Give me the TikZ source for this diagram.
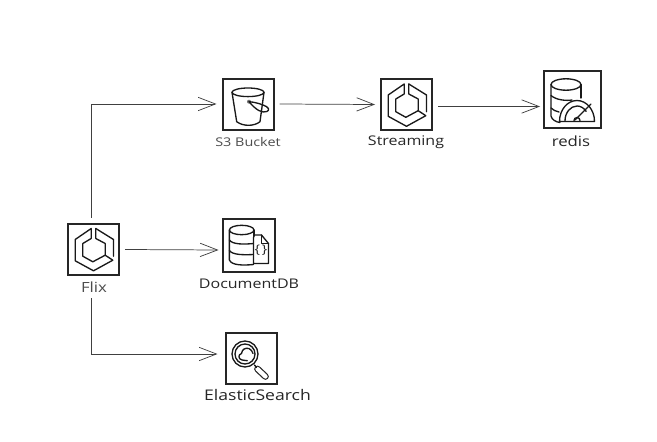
\documentclass[tikz,border=0pt]{standalone}
\usepackage{fontspec}
\setmainfont[FakeStretch=1.2]{Open Sans}
\usetikzlibrary{arrows.meta,calc}
\tikzstyle{svc}=[draw=black!85, line width=1.5pt, fill=white, inner sep=0pt, outer sep=4.5pt]
\tikzstyle{captext}=[inner sep=0pt, outer sep=0pt, text=black!85]
\tikzstyle{link}=[draw, line width=0.55pt, color=black!75, -{Straight Barb[length=13pt,width=10pt]}]
\tikzstyle{glyph}=[draw=black!90, line width=1pt, line join=round, line cap=round]
\newcommand{\svcbox}[2]{node (p#1)[svc,minimum width=#2,minimum height=#2]{}}
\newcommand{\capt}[3]{node (l#1)[captext,font=\fontsize{#2}{#2}\selectfont]{#3}}
\tikzset{
  pics/hexicon/.style={code={
    \draw[glyph] (-2.3,-21) -- (-18.3,-10) -- (-18.3,11.3) -- (0,21.3) -- (19.3,10.7) -- (11.7,5.7) -- (-0.7,12.3) -- (-10.7,6.7) -- (-10.7,-6) -- (-2.3,-11) -- cycle;
    \draw[glyph] (2.3,-21) -- (20,-10) -- (20,6.7);
    \draw[glyph] (2.3,-21) -- (2.3,-11) -- (11.7,-6) -- (11.7,5.7);
  }},
  pics/bucketicon/.style={code={
    \draw[glyph] (0,-12.7) ellipse [x radius=16, y radius=4.3];
    \draw[glyph] (-16,-12.7) -- (-11.3,16.7) .. controls (-5,21.5) and (6,21.5) .. (12,16.7) -- (16,-12.7);
    \fill[black!55] (1,-3.3) circle (2);
    \draw[glyph] (1,-3.3) .. controls (5,-3) and (10,-2) .. (15,0) .. controls (21,2) and (22,5) .. (19,6.5) .. controls (14,8.5) and (8,5) .. (1,-3.3);
  }},
  pics/redisicon/.style={code={
    \draw[glyph] (-6,-15.5) ellipse [x radius=15, y radius=5.7];
    \draw[glyph] (-21,-15.5) -- (-21,16) .. controls (-20,20) and (-16,22) .. (-12,22.5);
    \draw[glyph] (9,-15.5) -- (9,-2);
    \draw[glyph] (-21,-4.5) .. controls (-16,0) and (-6,1) .. (0,0);
    \draw[glyph] (-21,8) .. controls (-19,10) and (-16,11.5) .. (-13,12);
    \draw[glyph,fill=white] (-12.5,21.5) arc [start angle=180, end angle=360, x radius=17.5, y radius=21] -- cycle;
    \draw[glyph] (-7,21) arc [start angle=180, end angle=320, x radius=12, y radius=15];
    \draw[glyph] (2,20.5) arc [start angle=180, end angle=360, radius=3];
    \draw[glyph] (3,20) -- (19,4);
  }},
  pics/docicon/.style={code={
    \draw[glyph] (-6.8,-15.5) ellipse [x radius=12.3, y radius=4.7];
    \draw[glyph] (-19.1,-15.5) -- (-19.1,14.5) .. controls (-17,20) and (-5,20) .. (5,19);
    \draw[glyph] (5.5,-15.5) -- (5.5,-7);
    \draw[glyph] (-19.1,-5.5) .. controls (-16,-1) and (-5,-1) .. (5,-2);
    \draw[glyph] (-19.1,5) .. controls (-16,9.5) and (-5,9.5) .. (5,9);
    \draw[glyph,fill=white] (5,-8) -- (6,-10.5) -- (13,-10.5) -- (20,-2) -- (20,18) -- (5,18) -- cycle;
    \draw[glyph] (13,-10.5) -- (13,-2) -- (20,-2);
    \node (docbrace) [captext,font=\fontsize{9}{9}\selectfont] at (12.5,5) {\{\,\}};
  }},
  pics/lensicon/.style={code={
    \draw[glyph] (-6,-4.5) circle (13);
    \draw[glyph] (-6,-4.5) circle (10);
    \draw[black!85,line width=5pt,line cap=round] (6.5,10.5) -- (14.5,18);
    \draw[white,line width=3.2pt,line cap=round] (6.5,10.5) -- (14.5,18);
    \draw[glyph] (3.5,6.5) -- (5.5,9);
    \draw[glyph] (-3.7,2.2) -- (-9,1.5) .. controls (-13,0.5) and (-13,-4) .. (-9.5,-5) .. controls (-9,-9) and (-6,-11) .. (-2,-10) .. controls (0,-9) and (1.5,-7) .. (2,-5);
  }}
}

\begin{document}
\begin{tikzpicture}[x=0.75pt,y=-0.75pt]
	\useasboundingbox (0,0) rectangle (657,442);

	% service boxes
	\path (93.5,249.5) \svcbox{flix}{38.25pt};
	\path (pflix)+(154.5,-144.5) \svcbox{sthree}{38.25pt};
	\path (psthree)+(158.5,0) \svcbox{stream}{38.25pt};
	\path (pstream)+(165.5,-5) \svcbox{redis}{42.75pt};
	\path (pflix)+(155,-4) \svcbox{doc}{39pt};
	\path (pflix)+(157.5,109) \svcbox{elastic}{38.25pt};

	% icons
	\pic at (pflix) {hexicon};
	\pic at (pstream) {hexicon};
	\pic at (psthree) {bucketicon};
	\pic at (predis) {redisicon};
	\pic at (pdoc) {docicon};
	\pic at (pelastic) {lensicon};

	% captions
	\path (94,287) \capt{flix}{10.5}{\textcolor{black!70}{Flix}};
	\path (248,142) \capt{sthree}{9}{\textcolor{black!70}{S3 Bucket}};
	\path (406,142) \capt{stream}{10}{Streaming};
	\path (571,141) \capt{redis}{10.5}{redis};
	\path (249,284) \capt{doc}{10}{DocumentDB};
	\path (257.5,395) \capt{elastic}{11}{ElasticSearch};

	% arrows
	\path [link] ($(pflix.north)+(-2.5,0)$) |- ($(psthree.west)+(0,-1)$);
	\path [link] (pflix.east) -- ($(pdoc.west)+(2,4.5)$);
	\path [link] ($(lflix.south)+(-2.5,6)$) |- ($(pelastic.west)+(-2,-4.5)$);
	\path [link] ($(psthree.east)+(0,-1)$) -- ($(pstream.west)+(0,-0.5)$);
	\path [link] ($(pstream.east)+(0,1.5)$) -- ($(predis.west)+(2.5,6.5)$);
\end{tikzpicture}
\end{document}
